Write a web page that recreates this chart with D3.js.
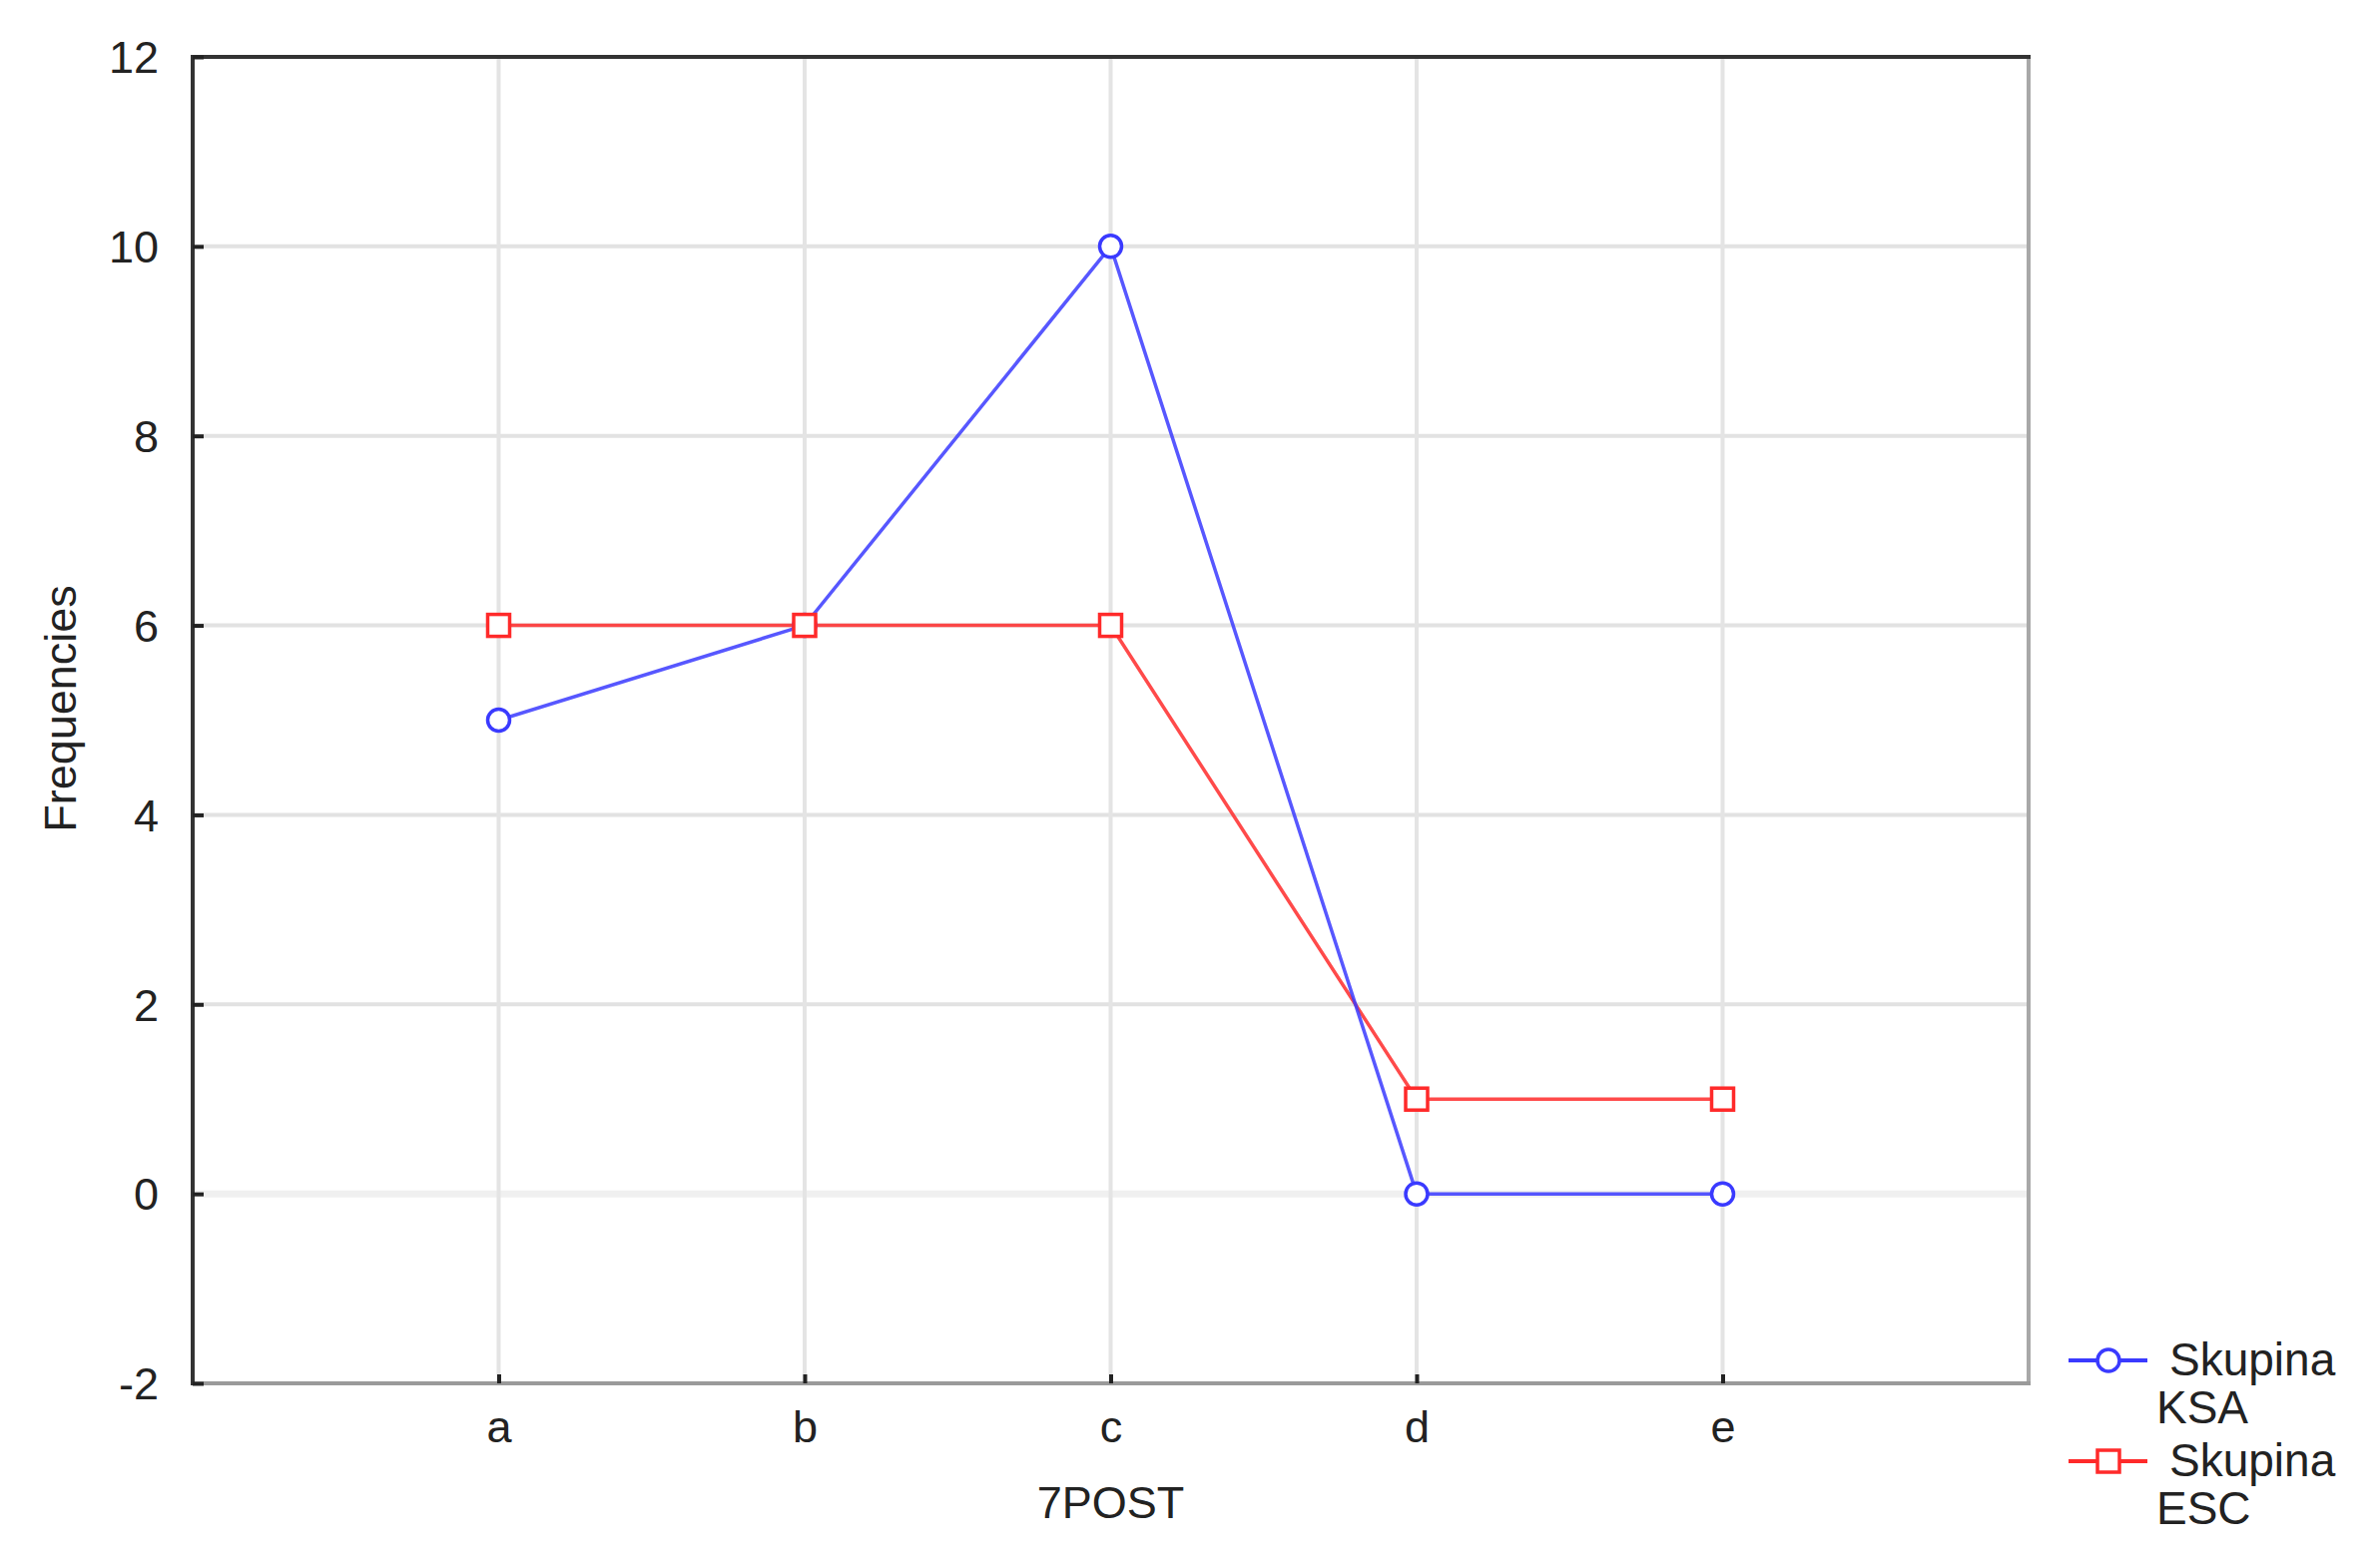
<!DOCTYPE html>
<html>
<head>
<meta charset="utf-8">
<script src="https://cdn.jsdelivr.net/npm/d3@7"></script>
<style>
  html, body { margin: 0; padding: 0; background: #fff; }
  svg { display: block; }
  text { font-family: "Liberation Sans", Arial, sans-serif; fill: #222; }
</style>
</head>
<body>
<svg id="chart" width="2384" height="1569"></svg>
<script>
const categories = ["a", "b", "c", "d", "e"];
const seriesNames = ["Skupina\nKSA", "Skupina\nESC"];
const ksaValues = [5, 6, 10, 0, 0];
const escValues = [6, 6, 6, 1, 1];
const yTicks = [-2, 0, 2, 4, 6, 8, 10, 12];
const xTitle = "7POST";
const yTitle = "Frequencies";

const W = 2384, H = 1569;
const plot = { left: 193, right: 2032, top: 57, bottom: 1386 };

const svg = d3.select("#chart");
const x = d3.scalePoint().domain(categories).range([plot.left, plot.right]).padding(1);
const y = d3.scaleLinear().domain([-2, 12]).range([plot.bottom, plot.top]);

// grid
const grid = svg.append("g");
grid.selectAll("line.h").data(yTicks.filter(t => t > -2 && t < 12)).join("line")
  .attr("x1", plot.left).attr("x2", plot.right)
  .attr("y1", d => y(d)).attr("y2", d => y(d))
  .attr("stroke", d => d === 0 ? "#f0f0f0" : "#e2e2e2")
  .attr("stroke-width", d => d === 0 ? 7 : 4);
grid.selectAll("line.v").data(categories).join("line")
  .attr("x1", d => x(d)).attr("x2", d => x(d))
  .attr("y1", plot.top).attr("y2", plot.bottom)
  .attr("stroke", "#e4e4e4").attr("stroke-width", 4);

// frame: right/bottom gray, left/top dark
svg.append("line").attr("x1", plot.right).attr("x2", plot.right).attr("y1", plot.top).attr("y2", plot.bottom + 2)
  .attr("stroke", "#a8a8a8").attr("stroke-width", 4);
svg.append("line").attr("x1", plot.left).attr("x2", plot.right + 2).attr("y1", plot.bottom).attr("y2", plot.bottom)
  .attr("stroke", "#9a9a9a").attr("stroke-width", 4);
svg.append("line").attr("x1", plot.left).attr("x2", plot.left).attr("y1", plot.top - 2).attr("y2", plot.bottom + 2)
  .attr("stroke", "#333").attr("stroke-width", 4);
svg.append("line").attr("x1", plot.left - 2).attr("x2", plot.right + 2).attr("y1", plot.top).attr("y2", plot.top)
  .attr("stroke", "#333").attr("stroke-width", 4);

// y axis (ticks inside)
const yAxis = d3.axisLeft(y).tickValues(yTicks).tickSize(-11).tickPadding(34).tickFormat(d => String(d));
const gy = svg.append("g").attr("transform", `translate(${plot.left},0)`).call(yAxis);
gy.select(".domain").remove();
gy.selectAll(".tick line").attr("stroke", "#222").attr("stroke-width", 4);
gy.selectAll(".tick text").attr("font-size", 45).attr("fill", "#222").attr("dy", "0.35em");

// x axis (ticks inside, upward)
const xAxis = d3.axisBottom(x).tickSize(-9).tickPadding(27);
const gx = svg.append("g").attr("transform", `translate(0,${plot.bottom})`).call(xAxis);
gx.select(".domain").remove();
gx.selectAll(".tick line").attr("stroke", "#222").attr("stroke-width", 4);
gx.selectAll(".tick text").attr("font-size", 45).attr("fill", "#222");

// axis titles
svg.append("text").attr("x", x("c")).attr("y", 1521).attr("text-anchor", "middle")
  .attr("font-size", 45).text(xTitle);
svg.append("text").attr("transform", `translate(76,710) rotate(-90)`).attr("text-anchor", "middle")
  .attr("font-size", 45).text(yTitle);

// series
const series = [
  { name: seriesNames[0], values: ksaValues, color: "#3a3aff", marker: "circle" },
  { name: seriesNames[1], values: escValues, color: "#ff2a2a", marker: "square" }
];
const line = d3.line().x((d, i) => x(categories[i])).y(d => y(d));

series.slice().reverse().forEach(s => {
  svg.append("path").attr("d", line(s.values)).attr("fill", "none")
    .attr("stroke", s.color).attr("stroke-width", 3.5).attr("stroke-opacity", 0.85);
});
series.forEach(s => {
  const g = svg.append("g");
  if (s.marker === "circle") {
    g.selectAll("circle").data(s.values).join("circle")
      .attr("cx", (d, i) => x(categories[i])).attr("cy", d => y(d)).attr("r", 11)
      .attr("fill", "#fff").attr("stroke", s.color).attr("stroke-width", 3.5);
  } else {
    g.selectAll("rect").data(s.values).join("rect")
      .attr("x", (d, i) => x(categories[i]) - 11).attr("y", d => y(d) - 11)
      .attr("width", 22).attr("height", 22)
      .attr("fill", "#fff").attr("stroke", s.color).attr("stroke-width", 3.5);
  }
});

// legend
const legendY = [1363, 1464];
series.forEach((s, k) => {
  const g = svg.append("g").attr("transform", `translate(0,${legendY[k]})`);
  g.append("line").attr("x1", 2072).attr("x2", 2151).attr("y1", 0).attr("y2", 0)
    .attr("stroke", s.color).attr("stroke-width", 4);
  if (s.marker === "circle") {
    g.append("circle").attr("cx", 2112).attr("cy", 0).attr("r", 11)
      .attr("fill", "#fff").attr("stroke", s.color).attr("stroke-width", 3.5);
  } else {
    g.append("rect").attr("x", 2101).attr("y", -11).attr("width", 22).attr("height", 22)
      .attr("fill", "#fff").attr("stroke", s.color).attr("stroke-width", 3.5);
  }
  const parts = s.name.split("\n");
  g.append("text").attr("x", 2173).attr("y", 15).attr("font-size", 46).text(parts[0]);
  g.append("text").attr("x", 2160).attr("y", 63).attr("font-size", 46).text(parts[1]);
});
</script>
</body>
</html>
